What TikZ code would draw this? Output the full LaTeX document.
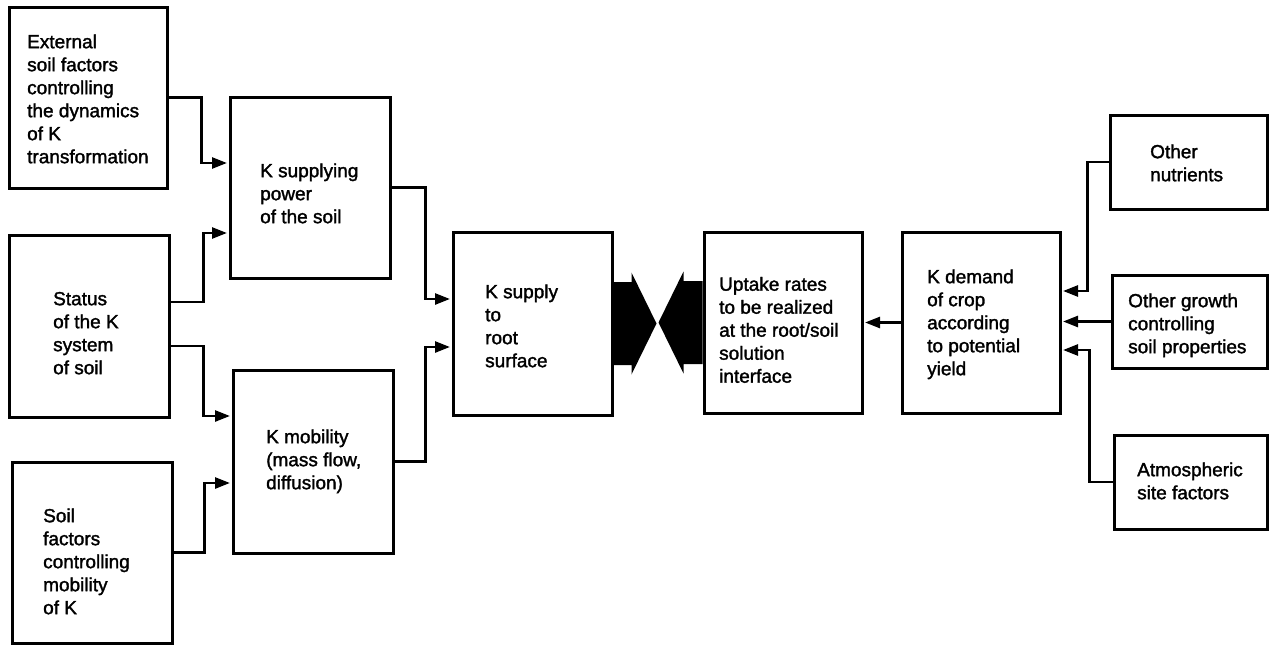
\documentclass[tikz,border=0pt]{standalone}
\usepackage{fontspec}
\setmainfont{Liberation Sans}
\newfontfamily\labelfont{Liberation Sans}[FakeBold=1.6]
\usetikzlibrary{arrows.meta,fit,calc}
\begin{document}
\begin{tikzpicture}[x=1pt,y=-1pt,
  box/.style={draw, line width=3pt, inner sep=0pt},
  txt/.style={font=\labelfont\fontsize{19}{23}\selectfont, align=left, inner sep=0pt, anchor=north west},
  arr/.style={line width=2.6pt, shorten >=1.5pt, -{Triangle[length=15pt,width=11pt]}},
  big/.style={fill=black}
]
\useasboundingbox[fill=white] (0,0) rectangle (1269,645);
% boxes
\node[box, fit={(9,7) (167,188)}] (ext) {};
\node[box, fit={(230,97) (390,278)}] (ksp) {};
\node[box, fit={(9,235) (169,417)}] (st) {};
\node[box, fit={(233,370) (393,553)}] (kmob) {};
\node[box, fit={(12,462) (172,643)}] (sf) {};
\node[box, fit={(453,232) (612,415)}] (ksup) {};
\node[box, fit={(704,232) (862,413)}] (up) {};
\node[box, fit={(902,232) (1060,413)}] (kd) {};
\node[box, fit={(1110,115) (1267,209)}] (on) {};
\node[box, fit={(1112,275) (1267,368)}] (og) {};
\node[box, fit={(1114,435) (1267,529)}] (at) {};
% texts
\node[txt] (extT) at (27,31.9) {\strut External\\soil factors\\controlling\\the dynamics\\of K\\transformation};
\node[txt] (kspT) at (260,160.9) {\strut K supplying\\power\\of the soil};
\node[txt] (stT) at (53,288.9) {\strut Status\\of the K\\system\\of soil};
\node[txt] (kmobT) at (266,426.9) {\strut K mobility\\(mass flow,\\diffusion)};
\node[txt] (sfT) at (43,505.9) {\strut Soil\\factors\\controlling\\mobility\\of K};
\node[txt] (ksupT) at (485,281.9) {\strut K supply\\to\\root\\surface};
\node[txt] (upT) at (719,274.4) {\strut Uptake rates\\to be realized\\at the root/soil\\solution\\interface};
\node[txt] (kdT) at (927,266.9) {\strut K demand\\of crop\\according\\to potential\\yield};
\node[txt] (onT) at (1150,141.9) {\strut Other\\nutrients};
\node[txt] (ogT) at (1128,290.9) {\strut Other growth\\controlling\\soil properties};
\node[txt] (atT) at (1137,459.9) {\strut Atmospheric\\site factors};
% connectors
\draw[arr] (ext.east) -- ++(33,0) |- ([yshift=24.5pt]ksp.west);
\draw[arr] ([yshift=24pt]st.east) -- ++(33,0) |- ([yshift=-45.5pt]ksp.west);
\draw[arr] ([yshift=-20pt]st.east) -- ++(33,0) |- ([yshift=45.5pt]kmob.west);
\draw[arr] (sf.east) -- ++(31,0) |- ([yshift=-21.5pt]kmob.west);
\draw[arr] (ksp.east) -- ++(34,0) |- ([yshift=24.5pt]ksup.west);
\draw[arr] (kmob.east) -- ++(31,0) |- ([yshift=-23.5pt]ksup.west);
\draw[arr] (kd.west) -- (up.east);
\draw[arr] (on.west) -- ++(-21,0) |- ([yshift=31.5pt]kd.east);
\draw[arr] (og.west) -- (og.west -| kd.east);
\draw[arr] (at.west) -- ++(-23,0) |- ([yshift=-27.5pt]kd.east);
% big arrows
\fill[big] (ksup.east) ++(0,-41.5) -- ++(18,0) -- ++(0,-9.5) -- ++(25,51) -- ++(-25,51) -- ++(0,-9.5) -- ++(-18,0) -- cycle;
\fill[big] (up.west) ++(0,-41.5) -- ++(-19,0) -- ++(0,-9.5) -- ++(-25,51) -- ++(25,51) -- ++(0,-9.5) -- ++(19,0) -- cycle;
\end{tikzpicture}
\end{document}
